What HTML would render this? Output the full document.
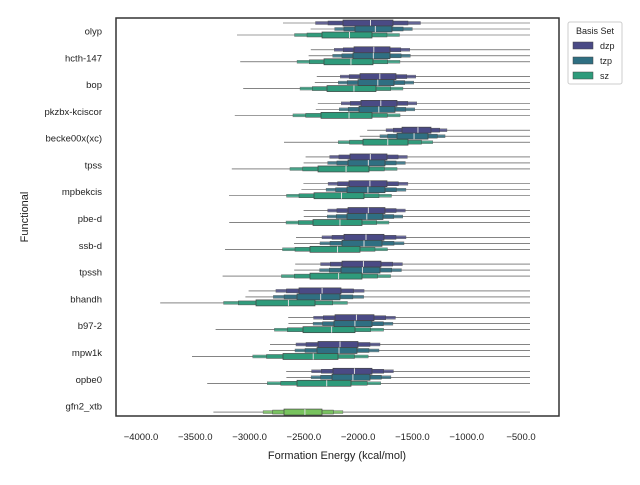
<!DOCTYPE html><html><head><style>body{margin:0;background:#fff}svg{font-family:"Liberation Sans",sans-serif}</style></head><body>
<svg id="s" width="640" height="480" xmlns="http://www.w3.org/2000/svg"></svg>
<script>
const s=document.getElementById('s');let h='';
const X=v=>141+(v+4000)*0.108571;
const names=["olyp","hcth-147","bop","pkzbx-kciscor","becke00x(xc)","tpss","mpbekcis","pbe-d","ssb-d","tpssh","bhandh","b97-2","mpw1k","opbe0","gfn2_xtb"];
const B=[[[343,393],[355,392],[322,372]],[[354,390],[353,390],[324,373]],[[360,396],[358,394],[327,376]],[[361,397],[359,395],[321,372]],[[402,431],[397,428],[363,408]],[[350,387],[348,385],[318,369]],[[349,387],[347,385],[314,364]],[[348,385],[347,383],[313,362]],[[344,384],[342,382],[310,360]],[[342,381],[341,380],[310,362]],[[299,341],[297,340],[256,315]],[[335,374],[334,372],[303,355]],[[318,358],[317,357],[283,338]],[[333,372],[332,370],[297,351]],[null,null,[284,322]]];
const C=["#4a4a85","#2f6f82","#2e9b7b"];
for(let i=0;i<15;i++){const cy=31+i*26.79;
 h+=`<text x="102" y="${cy+3.5}" font-size="9.5" text-anchor="end" fill="#222">${names[i]}</text>`;
 for(let k=0;k<3;k++){const b=B[i][k];if(!b)continue;const y=i==14?cy+6:cy+[-8,-2,4][k];const w=b[1]-b[0];let col=i==14?"#78c35e":C[k];
  const lo=b[0]-w*1.2-(k==2?25:0), hi=530;
  h+=`<line x1="${lo}" x2="${hi}" y1="${y}" y2="${y}" stroke="#3a3a3a" stroke-width="0.6"/>`;
  h+=`<rect x="${b[0]-w*0.55}" y="${y-1.5}" width="${w*2.1}" height="3" fill="${col}" opacity=".8" stroke="#444" stroke-width=".4"/>`;
  h+=`<rect x="${b[0]-w*0.3}" y="${y-2}" width="${w*1.6}" height="4" fill="${col}" opacity=".9" stroke="#444" stroke-width=".5"/>`;
  h+=`<rect x="${b[0]}" y="${y-3}" width="${w}" height="6" fill="${col}" stroke="#444" stroke-width=".7"/>`;
  h+=`<line x1="${b[0]+w*0.55}" x2="${b[0]+w*0.55}" y1="${y-3}" y2="${y+3}" stroke="#ddd" stroke-width="1"/>`;
 }}
for(let v=-4000;v<=-500;v+=500){const x=X(v);h+=`<text x="${x}" y="440" font-size="9.5" text-anchor="middle" fill="#222">${(v<0?"\u2212":"")+Math.abs(v)}.0</text>`;}
h+=`<rect x="116" y="18" width="443" height="398" fill="none" stroke="#333" stroke-width="1.5"/>`;
h+=`<text x="337" y="459" font-size="11" text-anchor="middle" fill="#222">Formation Energy (kcal/mol)</text>`;
h+=`<text x="28" y="217" font-size="11" text-anchor="middle" fill="#222" transform="rotate(-90 28 217)">Functional</text>`;
h+=`<rect x="568" y="22" width="54" height="62" rx="2" fill="#fff" stroke="#ccc"/>`;
h+=`<text x="595" y="34" font-size="9" text-anchor="middle" fill="#222">Basis Set</text>`;
["dzp","tzp","sz"].forEach((t,k)=>{const y=42+k*15;h+=`<rect x="573" y="${y}" width="20" height="7" fill="${C[k]}" stroke="#444" stroke-width=".5"/><text x="600" y="${y+7}" font-size="9" fill="#222">${t}</text>`});
s.innerHTML=h;
</script></body></html>
